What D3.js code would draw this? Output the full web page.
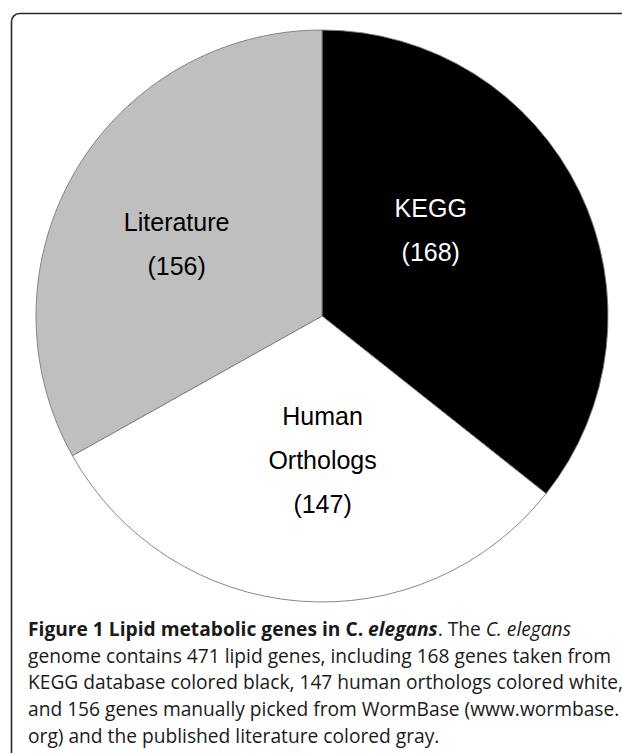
<!DOCTYPE html>
<html>
<head>
<meta charset="utf-8">
<script src="https://cdn.jsdelivr.net/npm/d3@7"></script>
<style>
  body { margin: 0; background: #fff; }
  svg { display: block; }
</style>
</head>
<body>
<svg id="chart"></svg>
<script>
// data
const categories = ["KEGG", "Human Orthologs", "Literature"]
const geneCounts = [168, 147, 156]
const labelLines = [["KEGG", "(168)"], ["Human", "Orthologs", "(147)"], ["Literature", "(156)"]]
const sliceColors = ["#000000", "#ffffff", "#bfbfbf"]
const textColors = ["#ffffff", "#000000", "#000000"]

// label nudges from the slice centroid (layout only)
const labelNudge = [[-20, -15], [12, 10], [-22, 9]]

const width = 622
const height = 753
const cx = 322
const cy = 316
const radius = 286
const lineGap = 44

const svg = d3.select("#chart").attr("width", width).attr("height", height)

// frame, open at the right and bottom like the cropped figure
svg.append("rect")
  .attr("x", 11.5)
  .attr("y", 13.5)
  .attr("width", 700)
  .attr("height", 800)
  .attr("rx", 8)
  .attr("fill", "none")
  .attr("stroke", "#2a2a2a")
  .attr("stroke-width", 1.6)

const pie = d3.pie().sort(null).value((d) => d)
const arc = d3.arc().innerRadius(0).outerRadius(radius)
const arcs = pie(geneCounts)

const g = svg.append("g").attr("transform", `translate(${cx},${cy})`)

g.selectAll("path")
  .data(arcs)
  .enter()
  .append("path")
  .attr("d", arc)
  .attr("fill", (d, i) => sliceColors[i])
  .attr("stroke", "#7a7a7a")
  .attr("stroke-width", 0.9)

const labels = g.selectAll("g.label")
  .data(arcs)
  .enter()
  .append("g")
  .attr("class", "label")
  .attr("transform", (d, i) => {
    const [x, y] = arc.centroid(d)
    return `translate(${x + labelNudge[i][0]},${y + labelNudge[i][1]})`
  })

labels.each(function (d, i) {
  const lines = labelLines[i]
  const top = -((lines.length - 1) * lineGap) / 2
  d3.select(this)
    .selectAll("text")
    .data(lines)
    .enter()
    .append("text")
    .attr("x", 0)
    .attr("y", (t, j) => top + j * lineGap)
    .attr("text-anchor", "middle")
    .attr("font-family", "Liberation Sans, Arial, sans-serif")
    .attr("font-size", 25)
    .attr("fill", textColors[i])
    .text((t) => t)
})

// caption
const caption = svg.append("text")
  .attr("font-family", "Open Sans, Noto Sans, sans-serif")
  .attr("font-size", 19.2)
  .attr("fill", "#1a1a1a")

const captionX = 28
const captionY = 636
const captionGap = 26.7

const line1 = caption.append("tspan").attr("x", captionX).attr("y", captionY)
line1.append("tspan").attr("font-weight", "bold").text("Figure 1 Lipid metabolic genes in C. ")
line1.append("tspan").attr("font-weight", "bold").attr("font-style", "italic").text("elegans")
line1.append("tspan").text(". The ")
line1.append("tspan").attr("font-style", "italic").text("C. elegans")

const bodyLines = [
  "genome contains 471 lipid genes, including 168 genes taken from",
  "KEGG database colored black, 147 human orthologs colored white,",
  "and 156 genes manually picked from WormBase (www.wormbase.",
  "org) and the published literature colored gray."
]

bodyLines.forEach((t, i) => {
  caption.append("tspan")
    .attr("x", captionX)
    .attr("y", captionY + (i + 1) * captionGap)
    .text(t)
})
</script>
</body>
</html>
